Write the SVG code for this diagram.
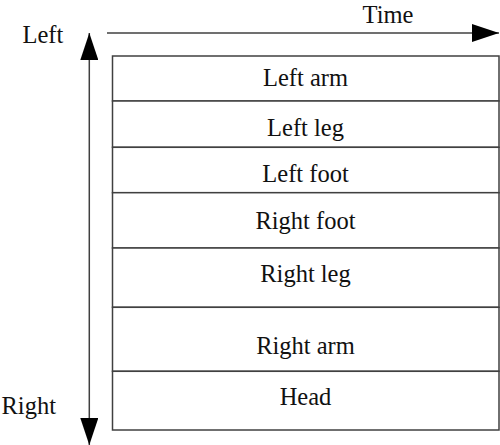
<svg xmlns="http://www.w3.org/2000/svg" width="500" height="445" viewBox="0 0 500 445">
  <style>
    .row { fill: #ffffff; stroke: #404040; stroke-width: 1.5; }
    .lbl { font-family: "Liberation Serif", "Times New Roman", serif; font-size: 24.5px; fill: #111111; }
    .mid { text-anchor: middle; }
    .axis { stroke: #404040; stroke-width: 1.5; fill: none; }
  </style>
  <defs>
    <marker id="head" markerUnits="userSpaceOnUse" markerWidth="27" markerHeight="18" refX="27" refY="9" orient="auto-start-reverse">
      <path d="M0,0 L27,9 L0,18 z" fill="#000000"/>
    </marker>
  </defs>
  <rect width="500" height="445" fill="#ffffff"/>

  <g id="connectors">
    <line class="axis" x1="89.3" y1="33" x2="89.3" y2="445" marker-start="url(#head)" marker-end="url(#head)"/>
    <line class="axis" x1="107" y1="33" x2="499" y2="33" marker-end="url(#head)"/>
  </g>

  <g id="axis-labels">
    <text class="lbl" x="22.5" y="42.5">Left</text>
    <text class="lbl" x="1.5" y="414">Right</text>
    <text class="lbl mid" x="388" y="22.5">Time</text>
  </g>

  <g id="left-arm">
    <rect class="row" x="112.5" y="56" width="386.5" height="45"/>
    <text class="lbl mid" x="305.5" y="86">Left arm</text>
  </g>
  <g id="left-leg">
    <rect class="row" x="112.5" y="101" width="386.5" height="46.3"/>
    <text class="lbl mid" x="305.5" y="136">Left leg</text>
  </g>
  <g id="left-foot">
    <rect class="row" x="112.5" y="147.3" width="386.5" height="45.4"/>
    <text class="lbl mid" x="305.5" y="182.3">Left foot</text>
  </g>
  <g id="right-foot">
    <rect class="row" x="112.5" y="192.7" width="386.5" height="55.3"/>
    <text class="lbl mid" x="305.5" y="229">Right foot</text>
  </g>
  <g id="right-leg">
    <rect class="row" x="112.5" y="248" width="386.5" height="59.3"/>
    <text class="lbl mid" x="305.5" y="281.7">Right leg</text>
  </g>
  <g id="right-arm">
    <rect class="row" x="112.5" y="307.3" width="386.5" height="64"/>
    <text class="lbl mid" x="305.5" y="353.5">Right arm</text>
  </g>
  <g id="head-row">
    <rect class="row" x="112.5" y="371.3" width="386.5" height="58.7"/>
    <text class="lbl mid" x="305.5" y="405">Head</text>
  </g>
</svg>
